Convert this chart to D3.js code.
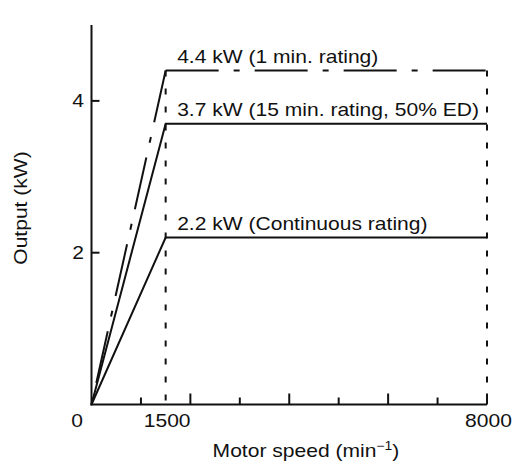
<!DOCTYPE html>
<meta charset="utf-8">

<!-- load d3.js -->
<script src="https://d3js.org/d3.v7.min.js"></script>

<div id="chart"></div>
<style>
body{ margin:0; background:#fff; }
text{ font-family: "Liberation Sans", Arial, Helvetica, sans-serif; font-size:18px; fill:#111; }
.curve{ fill:none; stroke:#111; stroke-width:2px; }
.guide{ fill:none; stroke:#111; stroke-width:2px; stroke-dasharray:6,12; }
.axisline{ stroke:#111; stroke-width:2px; }
</style>

<script>
  // data
  var speeds = [0, 1500, 8000];               // min-1 : start, base speed, max speed
  var ratingKW = [4.4, 3.7, 2.2];
  var ratingLabels = ["4.4 kW (1 min. rating)",
                      "3.7 kW (15 min. rating, 50% ED)",
                      "2.2 kW (Continuous rating)"];
  var ratingDashed = [true, false, false];
  var xTicks = [1000, 2000, 3000, 4000, 5000, 6000, 7000, 8000];
  var xMajor = [2000, 4000, 6000, 8000];
  var xTickLabels = [1500, 8000];
  var yTicks = [2, 4];
  var yTickLabels = ["2", "4"];

  var width = 516, height = 464;
  var stretch = 1.17;   // the lettering in the original is wide

  var svg = d3.select("#chart")
    .append("svg")
      .attr("width", width)
      .attr("height", height);

  var x = d3.scaleLinear()
    .domain([0, 8000])
    .range([91.5, 487]);

  var y = d3.scaleLinear()
    .domain([0, 5])
    .range([404.5, 25]);

  var line = d3.line()
    .x(function(d){ return x(d[0]); })
    .y(function(d){ return y(d[1]); });

  // helper, places a stretched text
  function label(txt, px, py, anchor, rot){
    var t = svg.append("text")
      .attr("transform", "translate(" + px + "," + py + ")" + (rot ? " rotate(" + rot + ")" : "") + " scale(" + stretch + ",1)")
      .attr("text-anchor", anchor)
      .text(txt);
    return t;
  }

  // axes
  svg.append("line").attr("class","axisline")
    .attr("x1", x(0)).attr("x2", x(0))
    .attr("y1", y(0) + 1).attr("y2", y(5));
  svg.append("line").attr("class","axisline")
    .attr("x1", x(0) - 1).attr("x2", x(8000))
    .attr("y1", y(0)).attr("y2", y(0));

  // x ticks (pointing in)
  svg.selectAll("xtick")
    .data(xTicks)
    .enter()
    .append("line")
      .attr("class","axisline")
      .attr("x1", function(d){ return x(d); })
      .attr("x2", function(d){ return x(d); })
      .attr("y1", y(0))
      .attr("y2", function(d){ return y(0) - (xMajor.indexOf(d) >= 0 ? 11 : 7); });

  // y ticks
  svg.selectAll("ytick")
    .data(yTicks)
    .enter()
    .append("line")
      .attr("class","axisline")
      .attr("x1", x(0))
      .attr("x2", x(0) + 8)
      .attr("y1", function(d){ return y(d); })
      .attr("y2", function(d){ return y(d); });

  // dashed guides at base speed and max speed
  svg.selectAll("guide")
    .data([speeds[1], speeds[2]])
    .enter()
    .append("path")
      .attr("class","guide")
      .attr("d", function(d){ return line([[d, d3.max(ratingKW)], [d, 0]]); });

  // rating curves
  ratingKW.forEach(function(kw, i){
    if (ratingDashed[i]) {
      // dash-dot, both legs drawn out from the corner
      [[[speeds[1], kw], [speeds[0], 0]], [[speeds[1], kw], [speeds[2], kw]]].forEach(function(seg){
        svg.append("path")
          .attr("class","curve")
          .attr("d", line(seg))
          .style("stroke-dasharray","53,15,6,15");
      });
    } else {
      svg.append("path")
        .attr("class","curve")
        .attr("d", line([[speeds[0], 0], [speeds[1], kw], [speeds[2], kw]]))
        .style("stroke-linejoin","miter");
    }
    label(ratingLabels[i], x(speeds[1]) + 11.5, y(kw) - 7.5, "start");
  });

  // tick labels
  label("0", x(0) - 8.5, y(0) + 22.5, "end");
  yTicks.forEach(function(d, i){
    label(yTickLabels[i], x(0) - 7.5, y(d) + 6.5, "end");
  });
  xTickLabels.forEach(function(d){
    label(String(d), x(d) + 1.5, y(0) + 22.5, "middle");
  });

  // axis titles
  var xt = label("", 306, 456.5, "middle");
  xt.append("tspan").text("Motor speed (min");
  xt.append("tspan").attr("dy", -7).style("font-size","12px").text("\u22121");
  xt.append("tspan").attr("dy", 7).text(")");

  label("Output (kW)", 26.5, 208, "middle", -90);
</script>
